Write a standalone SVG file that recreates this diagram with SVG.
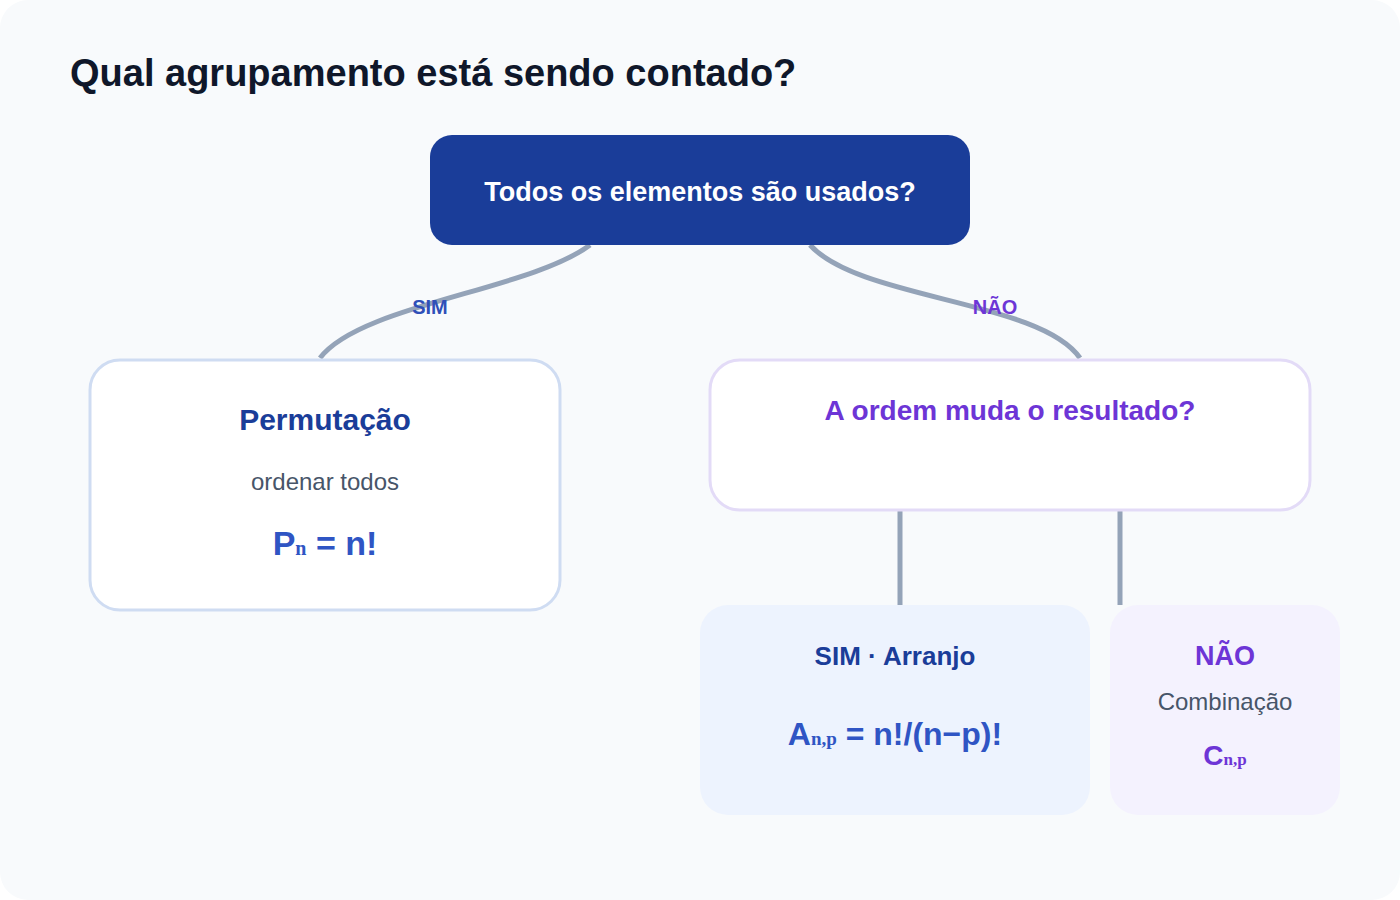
<svg xmlns="http://www.w3.org/2000/svg" width="1400" height="900" viewBox="0 0 1400 900">
<style>
text{font-family:"Liberation Sans",Arial,sans-serif;text-anchor:middle}
.b{font-weight:bold}
.sub{font-family:"Liberation Serif","DejaVu Serif",serif;font-weight:bold}
.edge{fill:none;stroke:#94a3b8;stroke-width:5}
</style>
<rect width="1400" height="900" fill="#ffffff"/>
<rect x="0" y="0" width="1400" height="900" rx="28" fill="#f8fafc"/>
<text x="70" y="86" class="b" style="text-anchor:start" font-size="38" fill="#0f172a">Qual agrupamento está sendo contado?</text>
<g id="connectors">
<path class="edge" d="M590,245 C530,290 360,305 320,358"/>
<path class="edge" d="M810,245 C860,300 1040,300 1080,358"/>
<line class="edge" x1="900" y1="510" x2="900" y2="605"/>
<line class="edge" x1="1120" y1="510" x2="1120" y2="605"/>
<text x="430" y="314" class="b" font-size="20" fill="#2f4fb8">SIM</text>
<text x="995" y="314" class="b" font-size="20" fill="#6d35d6">NÃO</text>
</g>
<g id="root">
<rect x="430" y="135" width="540" height="110" rx="22" fill="#1a3d99"/>
<text x="700" y="201" class="b" font-size="27" fill="#ffffff">Todos os elementos são usados?</text>
</g>
<g id="permutacao">
<rect x="90" y="360" width="470" height="250" rx="30" fill="#ffffff" stroke="#cfdcf2" stroke-width="3"/>
<text x="325" y="430" class="b" font-size="30" fill="#1a3d99">Permutação</text>
<text x="325" y="490" font-size="24" fill="#475569">ordenar todos</text>
<text x="325" y="555" class="b" font-size="34" fill="#2f55c4">P<tspan class="sub" font-size="20">n</tspan> = n!</text>
</g>
<g id="ordem">
<rect x="710" y="360" width="600" height="150" rx="30" fill="#ffffff" stroke="#e3dbf7" stroke-width="3"/>
<text x="1010" y="420" class="b" font-size="28" fill="#6d35d6">A ordem muda o resultado?</text>
</g>
<g id="arranjo">
<rect x="700" y="605" width="390" height="210" rx="28" fill="#edf3fe"/>
<text x="895" y="665" class="b" font-size="26" fill="#1a3d99">SIM · Arranjo</text>
<text x="895" y="745" class="b" font-size="32" fill="#2f55c4">A<tspan class="sub" font-size="19">n,p</tspan> = n!/(n−p)!</text>
</g>
<g id="combinacao">
<rect x="1110" y="605" width="230" height="210" rx="28" fill="#f4f2fe"/>
<text x="1225" y="665" class="b" font-size="27" fill="#6d35d6">NÃO</text>
<text x="1225" y="710" font-size="24" fill="#475569">Combinação</text>
<text x="1225" y="765" class="b" font-size="28" fill="#6d35d6">C<tspan class="sub" font-size="17">n,p</tspan></text>
</g>
</svg>
